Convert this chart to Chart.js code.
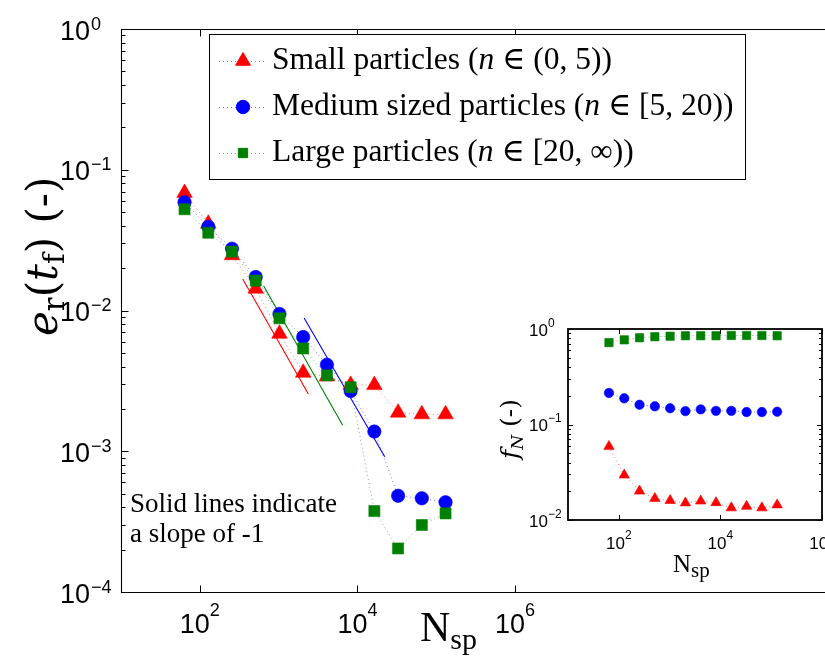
<!DOCTYPE html>
<html><head><meta charset="utf-8">
<script src="https://cdn.jsdelivr.net/npm/chart.js@4.4.0/dist/chart.umd.min.js"></script>
<style>
html,body{margin:0;padding:0;background:#fff;overflow:hidden;width:825px;height:662px;}
#wrap{position:relative;width:825px;height:662px;overflow:hidden;background:#fff;}
#main{position:absolute;left:0;top:0;}
#inset{position:absolute;left:470px;top:300px;}
</style></head><body>
<div id="wrap"><canvas id="main" width="840" height="662"></canvas><canvas id="inset" width="400" height="290"></canvas></div>
<script>
// ---------- data ----------
const nsp = [64,128,256,512,1024,2048,4096,8192,16384,32768,65536,131072];
const errSmall  = [0.0684,0.0414,0.0247,0.0143,0.00684,0.00361,0.0034,0.00296,0.00295,0.00188,0.00183,0.00183];
const errMedium = [0.0587,0.0394,0.0275,0.0173,0.00945,0.00648,0.00412,0.00268,0.00138,0.000483,0.000463,0.000434];
const errLarge  = [0.0524,0.0357,0.0262,0.0163,0.0088,0.00538,0.00346,0.00285,0.000376,0.000204,0.000299,0.000362];
const fracSmall  = [0.059,0.0296,0.0201,0.0168,0.016,0.0151,0.0158,0.0152,0.0134,0.0139,0.0134,0.0144];
const fracMedium = [0.214,0.188,0.161,0.155,0.148,0.138,0.144,0.139,0.139,0.135,0.135,0.136];
const fracLarge  = [0.72,0.77,0.81,0.83,0.84,0.85,0.85,0.85,0.855,0.855,0.855,0.85];
const slopeRedX = [350, 2383],   slopeRedY = [0.01675, 0.00255];
const slopeGreenX = [644, 6490], slopeGreenY = [0.0150, 0.00153];
const slopeBlueX = [2104, 22200], slopeBlueY = [0.00885, 0.000915];
const mainXTicks = [1e2, 1e4, 1e6];
const mainYTicks = [1e-4, 1e-3, 1e-2, 1e-1, 1];
const insetXTicks = [1e2, 1e4, 1e6];
const insetYTicks = [1e-2, 1e-1, 1];
const legendLabels = [
  [['Small particles (', 'r'], ['n', 'i'], [' \u2208 (0, 5))', 'r']],
  [['Medium sized particles (', 'r'], ['n', 'i'], [' \u2208 [5, 20))', 'r']],
  [['Large particles (', 'r'], ['n', 'i'], [' \u2208 [20, \u221E))', 'r']]
];
const noteLines = ['Solid lines indicate', 'a slope of -1'];

const RED = '#ff0000', BLUE = '#0000ff', GREEN = '#008000';
const SERIF = '"Liberation Serif", "DejaVu Serif", serif';
const WSERIF = '"DejaVu Serif", serif';
const SANS = '"Liberation Sans", Arial, sans-serif';
const expOf = v => Math.round(Math.log10(v));
const sup = n => (n < 0 ? '\u2212' + (-n) : '' + n);

function pts(xs, ys) { return xs.map((x, i) => ({x: x, y: ys[i]})); }
function runs(ctx, parts, x, y) {
  let cx = x;
  for (const p of parts) { ctx.font = p[1]; ctx.fillText(p[0], cx, y + (p[2] || 0)); cx += ctx.measureText(p[0]).width; }
  return cx - x;
}
function runsW(ctx, parts) {
  let w = 0; for (const p of parts) { ctx.font = p[1]; w += ctx.measureText(p[0]).width; } return w;
}
function minorVals(ticks) {
  const out = [];
  for (let i = 0; i < ticks.length - 1; i++) for (let k = 2; k <= 9; k++) out.push(k * ticks[i]);
  return out;
}

function seriesDS(label, xs, ys, color, lineColor, style, r, order) {
  return {label: label, data: pts(xs, ys), showLine: true, borderColor: lineColor, borderWidth: 1,
    borderDash: [1, 3], pointStyle: style, pointRadius: r, pointHoverRadius: r,
    pointBackgroundColor: color, pointBorderColor: color, pointBorderWidth: 0.6, order: order};
}
function slopeDS(xs, ys, color) {
  return {data: pts(xs, ys), showLine: true, borderColor: color, borderWidth: 1.1, pointRadius: 0, order: 5};
}

// ---------- main chart ----------
const mainPlugin = {
  id: 'mainDecor',
  afterDraw(chart) {
    const ctx = chart.ctx, a = chart.chartArea, xs = chart.scales.x, ys = chart.scales.y;
    ctx.save();
    ctx.strokeStyle = '#000'; ctx.lineWidth = 1.1;
    const L = Math.round(a.left) + 0.5, T = Math.round(a.top) + 0.5, B = Math.round(a.bottom) + 0.5, R = a.right;
    ctx.beginPath(); ctx.moveTo(R, T); ctx.lineTo(L, T); ctx.lineTo(L, B); ctx.lineTo(R, B); ctx.stroke();
    ctx.lineWidth = 1;
    ctx.beginPath();
    for (const t of xs.ticks) { const px = Math.round(xs.getPixelForValue(t.value)) + 0.5;
      ctx.moveTo(px, B); ctx.lineTo(px, B - 7); ctx.moveTo(px, T); ctx.lineTo(px, T + 7); }
    for (const t of ys.ticks) { const py = Math.round(ys.getPixelForValue(t.value)) + 0.5;
      ctx.moveTo(L, py); ctx.lineTo(L + 7, py); }
    for (const v of minorVals(mainYTicks)) { const py = Math.round(ys.getPixelForValue(v)) + 0.5;
      ctx.moveTo(L, py); ctx.lineTo(L + 4, py); }
    ctx.stroke();
    // tick labels
    ctx.fillStyle = '#000'; ctx.textBaseline = 'alphabetic';
    const fb = '27px ' + SANS, fe = '18px ' + SANS;
    for (const t of ys.ticks) {
      const py = ys.getPixelForValue(t.value);
      ctx.font = fb; ctx.textAlign = 'right'; ctx.fillText('10', 90, py + 10.5);
      ctx.font = fe; ctx.textAlign = 'left'; ctx.fillText(sup(expOf(t.value)), 91, py + 0.5);
    }
    ctx.textAlign = 'left';
    for (const t of xs.ticks) {
      const px = xs.getPixelForValue(t.value);
      const parts = [['10', fb, 0], [sup(expOf(t.value)), fe, -17]];
      const w = runsW(ctx, parts);
      runs(ctx, parts, px - w / 2, 633);
    }
    // axis titles
    runs(ctx, [['N', '42px ' + SERIF, 0], ['sp', '30px ' + SERIF, 8]], 420, 641);
    ctx.save();
    ctx.translate(57, 336); ctx.rotate(-Math.PI / 2);
    runs(ctx, [['e', 'italic 42px ' + WSERIF, 0], ['r', '29px ' + WSERIF, 7], ['(', '42px ' + WSERIF, 0],
      ['t', 'italic 42px ' + WSERIF, 0], ['f', '29px ' + WSERIF, 7], [')', '42px ' + WSERIF, 0], [' (-)', '42px ' + WSERIF, 0]], 0, 0);
    ctx.restore();
    // note
    ctx.font = '27px ' + SERIF;
    ctx.fillText(noteLines[0], 130, 512);
    ctx.fillText(noteLines[1], 130, 542);
    // legend
    const bx = 209.5, by = 34.5, bw = 536, bh = 145;
    ctx.fillStyle = '#fff'; ctx.fillRect(bx, by, bw, bh);
    ctx.strokeStyle = '#000'; ctx.lineWidth = 1; ctx.strokeRect(bx, by, bw, bh);
    const rowsY = [61, 107, 153];
    const styles = [['triangle', RED, 8.5, 'rgba(255,0,0,0.55)'], ['circle', BLUE, 6.7, 'rgba(0,0,255,0.55)'], ['rect', GREEN, 6.6, 'rgba(0,128,0,0.55)']];
    for (let i = 0; i < 3; i++) {
      const y = rowsY[i];
      ctx.save(); ctx.strokeStyle = styles[i][3]; ctx.setLineDash([1, 3]); ctx.lineWidth = 1;
      ctx.beginPath(); ctx.moveTo(219, y + 0.5); ctx.lineTo(264, y + 0.5); ctx.stroke(); ctx.restore();
      ctx.fillStyle = styles[i][1]; ctx.strokeStyle = styles[i][1]; ctx.setLineDash([]);
      Chart.helpers.drawPoint(ctx, {pointStyle: styles[i][0], radius: styles[i][2], rotation: 0, borderWidth: 0.6}, 243, y);
      ctx.fillStyle = '#000';
      const parts = legendLabels[i].map(p => [p[0], (p[1] === 'i' ? 'italic ' : '') + '31.5px ' + SERIF, 0]);
      runs(ctx, parts, 272, y + 7.5);
    }
    ctx.restore();
  }
};

new Chart(document.getElementById('main'), {
  type: 'scatter',
  data: {datasets: [
    seriesDS('Large particles', nsp, errLarge, GREEN, 'rgba(0,128,0,0.55)', 'rect', 7.8, 0),
    seriesDS('Medium sized particles', nsp, errMedium, BLUE, 'rgba(0,0,255,0.55)', 'circle', 6.7, 1),
    seriesDS('Small particles', nsp, errSmall, RED, 'rgba(255,0,0,0.55)', 'triangle', 9, 2),
    slopeDS(slopeRedX, slopeRedY, RED),
    slopeDS(slopeGreenX, slopeGreenY, GREEN),
    slopeDS(slopeBlueX, slopeBlueY, BLUE)
  ]},
  options: {
    responsive: false, animation: false, devicePixelRatio: 1,
    layout: {padding: {top: 29, left: 0, right: 6, bottom: 0}},
    plugins: {legend: {display: false}, tooltip: {enabled: false}},
    scales: {
      x: {type: 'logarithmic', min: 10, max: 1e10, ticks: {display: false}, grid: {display: false}, border: {display: false},
        afterBuildTicks(s) { s.ticks = mainXTicks.map(v => ({value: v})); }, afterFit(s) { s.height = 70; }},
      y: {type: 'logarithmic', min: 1e-4, max: 1, ticks: {display: false}, grid: {display: false}, border: {display: false},
        afterBuildTicks(s) { s.ticks = mainYTicks.map(v => ({value: v})); }, afterFit(s) { s.width = 121; }}
    }
  },
  plugins: [mainPlugin]
});

// ---------- inset chart ----------
const insetPlugin = {
  id: 'insetDecor',
  beforeDatasetsDraw(chart) {
    const ctx = chart.ctx, a = chart.chartArea;
    ctx.save(); ctx.fillStyle = '#fff'; ctx.fillRect(a.left, a.top, a.right - a.left, a.bottom - a.top); ctx.restore();
  },
  afterDraw(chart) {
    const ctx = chart.ctx, a = chart.chartArea, xs = chart.scales.x, ys = chart.scales.y;
    ctx.save();
    ctx.strokeStyle = '#000'; ctx.lineWidth = 1.8;
    ctx.strokeRect(a.left, a.top, a.right - a.left, a.bottom - a.top);
    ctx.lineWidth = 1;
    ctx.beginPath();
    for (const t of xs.ticks) { const px = Math.round(xs.getPixelForValue(t.value)) + 0.5;
      ctx.moveTo(px, a.bottom); ctx.lineTo(px, a.bottom - 5); ctx.moveTo(px, a.top); ctx.lineTo(px, a.top + 5); }
    for (const t of ys.ticks) { const py = Math.round(ys.getPixelForValue(t.value)) + 0.5;
      ctx.moveTo(a.left, py); ctx.lineTo(a.left + 5, py); ctx.moveTo(a.right, py); ctx.lineTo(a.right - 5, py); }
    for (const v of minorVals(insetYTicks)) { const py = Math.round(ys.getPixelForValue(v)) + 0.5;
      ctx.moveTo(a.left, py); ctx.lineTo(a.left + 3, py); ctx.moveTo(a.right, py); ctx.lineTo(a.right - 3, py); }
    ctx.stroke();
    ctx.fillStyle = '#000'; ctx.textBaseline = 'alphabetic';
    const fb = '17px ' + SANS, fe = '12px ' + SANS;
    for (const t of ys.ticks) {
      const py = ys.getPixelForValue(t.value);
      ctx.font = fb; ctx.textAlign = 'right'; ctx.fillText('10', 78, py + 6.5);
      ctx.font = fe; ctx.textAlign = 'left'; ctx.fillText(sup(expOf(t.value)), 78, py - 2.5);
    }
    ctx.textAlign = 'left';
    for (const t of xs.ticks) {
      const px = xs.getPixelForValue(t.value);
      const parts = [['10', fb, 0], [sup(expOf(t.value)), fe, -10]];
      const w = runsW(ctx, parts);
      runs(ctx, parts, px - w / 2, 248.5);
    }
    runs(ctx, [['N', '25px ' + SERIF, 0], ['sp', '21px ' + SERIF, 5]], 203, 272);
    ctx.save();
    ctx.translate(48, 159); ctx.rotate(-Math.PI / 2);
    runs(ctx, [['f', 'italic 25px ' + WSERIF, 0], ['N', 'italic 17px ' + WSERIF, 5], [' (-)', '25px ' + WSERIF, 0]], 0, 0);
    ctx.restore();
    ctx.restore();
  }
};

function insetDS(label, ys, color, lineColor, style, r, order) {
  return seriesDS(label, nsp, ys, color, lineColor, style, r, order);
}
new Chart(document.getElementById('inset'), {
  type: 'scatter',
  data: {datasets: [
    insetDS('Large particles', fracLarge, GREEN, 'rgba(0,128,0,0.55)', 'rect', 5.9, 0),
    insetDS('Medium sized particles', fracMedium, BLUE, 'rgba(0,0,255,0.55)', 'circle', 4.7, 1),
    insetDS('Small particles', fracSmall, RED, 'rgba(255,0,0,0.55)', 'triangle', 6, 2)
  ]},
  options: {
    responsive: false, animation: false, devicePixelRatio: 1,
    layout: {padding: {top: 29, left: 0, right: 48, bottom: 0}},
    plugins: {legend: {display: false}, tooltip: {enabled: false}},
    scales: {
      x: {type: 'logarithmic', min: 10, max: 1e6, ticks: {display: false}, grid: {display: false}, border: {display: false},
        afterBuildTicks(s) { s.ticks = insetXTicks.map(v => ({value: v})); }, afterFit(s) { s.height = 70; }},
      y: {type: 'logarithmic', min: 1e-2, max: 1, ticks: {display: false}, grid: {display: false}, border: {display: false},
        afterBuildTicks(s) { s.ticks = insetYTicks.map(v => ({value: v})); }, afterFit(s) { s.width = 98; }}
    }
  },
  plugins: [insetPlugin]
});
</script>
</body></html>
